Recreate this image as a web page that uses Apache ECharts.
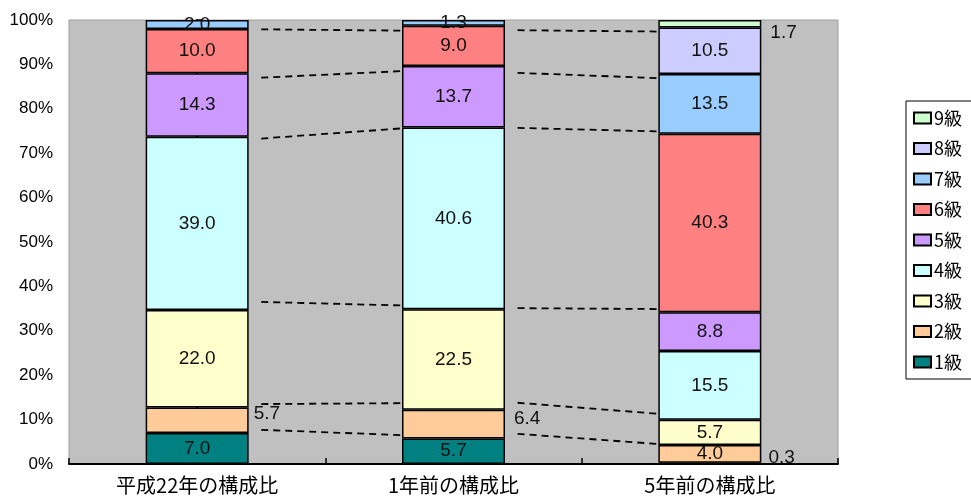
<!DOCTYPE html>
<html lang="ja">
<head>
<meta charset="UTF-8">
<title>構成比</title>
<script src="https://cdn.jsdelivr.net/npm/echarts@6.0.0/dist/echarts.min.js"></script>
<style>
  html, body { margin: 0; padding: 0; background: #fff; }
  #chart { width: 971px; height: 500px; }
</style>
</head>
<body>
<div id="chart"></div>
<script>
// categories
var categories = ['平成22年の構成比', '1年前の構成比', '5年前の構成比'];
var levelNames = ['1級', '2級', '3級', '4級', '5級', '6級', '7級', '8級', '9級'];

// values per level (平成22年, 1年前, 5年前)
var level1 = [7.0, 5.7, 0.3];
var level2 = [5.7, 6.4, 4.0];
var level3 = [22.0, 22.5, 5.7];
var level4 = [39.0, 40.6, 15.5];
var level5 = [14.3, 13.7, 8.8];
var level6 = [10.0, 9.0, 40.3];
var level7 = [2.0, 1.3, 13.5];
var level8 = [null, null, 10.5];
var level9 = [null, null, 1.7];

// dashed guide lines (percent at left end, percent at right end)
var guidesAB = [[97.9, 97.6], [87.0, 88.5], [73.3, 75.6], [36.5, 35.7], [13.5, 13.7], [7.7, 6.5]];
var guidesBC = [[97.7, 97.4], [88.1, 86.9], [75.7, 74.9], [35.1, 34.9], [13.8, 11.3], [6.8, 4.5]];

var yTicks = [0, 10, 20, 30, 40, 50, 60, 70, 80, 90, 100];

var levels = [level1, level2, level3, level4, level5, level6, level7, level8, level9];
var colors = ['#008080', '#FFCC99', '#FFFFCC', '#CCFFFF', '#CC99FF', '#FF8080', '#99CCFF', '#CCCCFF', '#CCFFCC'];

// 100% stacked: each column is scaled to its own total
var totals = categories.map(function (c, j) {
  var s = 0;
  levels.forEach(function (l) { if (l[j] != null) s += l[j]; });
  return s;
});

// labels drawn beside the bar instead of inside
var outside = {
  '1-0': [0, -7],
  '1-1': [4, -5],
  '8-2': [4, 9],
  '0-2': [2, -6]
};

var numFont = '"Liberation Sans", Arial, sans-serif';
var jpFont = '"Noto Sans CJK JP", "Noto Sans CJK SC", sans-serif';

var series = levels.map(function (vals, i) {
  return {
    name: levelNames[i],
    type: 'bar',
    stack: 'all',
    barWidth: 103,
    itemStyle: { color: colors[i], borderColor: '#000', borderWidth: 1.5 },
    label: {
      show: true,
      position: 'inside',
      color: '#111',
      fontSize: 19,
      fontFamily: numFont,
      formatter: function (p) { return p.data.raw.toFixed(1); }
    },
    data: vals.map(function (v, j) {
      if (v == null) return { value: null, raw: 0, label: { show: false } };
      var item = { value: v / totals[j] * 100, raw: v };
      var off = outside[i + '-' + j];
      if (off) item.label = { position: 'right', distance: 5, offset: off };
      return item;
    })
  };
});

// dashed connectors between neighbouring bars
var half = 0.2;
function guideData(pairs, from) {
  return pairs.map(function (p) {
    return { coords: [[from + half + 0.05, p[0]], [from + 1 - half, p[1]]] };
  });
}
series.push({
  type: 'lines',
  coordinateSystem: 'cartesian2d',
  xAxisIndex: 1,
  yAxisIndex: 0,
  silent: true,
  z: 5,
  lineStyle: { color: '#000', width: 1.8, type: [7, 5], opacity: 1 },
  data: guideData(guidesAB, 0).concat(guideData(guidesBC, 1))
});

var chart = echarts.init(document.getElementById('chart'), null, { renderer: 'canvas' });
chart.setOption({
  animation: false,
  backgroundColor: '#fff',
  grid: {
    left: 69, right: 133, top: 20, bottom: 36,
    show: true, backgroundColor: '#C0C0C0', borderColor: '#A0A0A0', borderWidth: 1
  },
  legend: {
    orient: 'vertical',
    left: 906,
    top: 101,
    padding: [8, 20, 8, 7],
    backgroundColor: '#fff',
    borderColor: '#000',
    borderWidth: 1,
    borderRadius: 0,
    itemWidth: 17,
    itemHeight: 11,
    itemGap: 12.5,
    icon: 'rect',
    textStyle: { fontSize: 18, lineHeight: 18, fontFamily: jpFont, color: '#000', padding: [0, 0, 0, -2] },
    data: levelNames.slice().reverse()
  },
  xAxis: [{
    type: 'category',
    data: categories,
    axisLine: { lineStyle: { color: '#000', width: 2 } },
    axisTick: { show: true, inside: true, length: 6, lineStyle: { color: '#000', width: 1.5 } },
    axisLabel: { color: '#000', fontSize: 20, fontFamily: jpFont, margin: 11 }
  }, {
    type: 'value',
    min: -0.5,
    max: 2.5,
    show: false
  }],
  yAxis: {
    type: 'value',
    min: yTicks[0],
    max: yTicks[yTicks.length - 1],
    interval: 10,
    axisLine: { show: true, lineStyle: { color: '#000', width: 2 } },
    axisTick: { show: true, inside: true, length: 6, lineStyle: { color: '#000', width: 1.5 } },
    splitLine: { show: false },
    axisLabel: { color: '#000', fontSize: 17, fontFamily: numFont, margin: 16, formatter: '{value}%' }
  },
  series: series
});
</script>
</body>
</html>
